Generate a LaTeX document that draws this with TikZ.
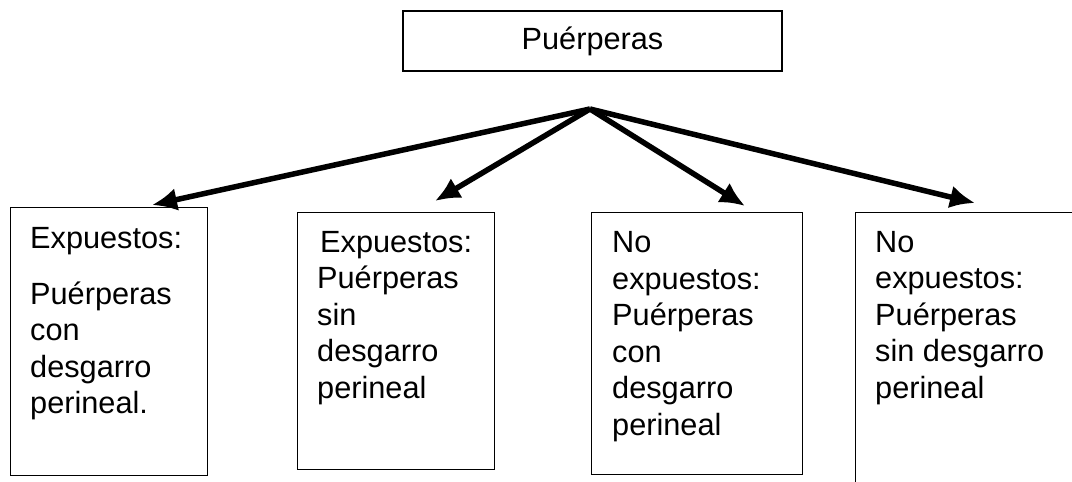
\documentclass[tikz,border=0pt]{standalone}
\usepackage{fontspec}
\setmainfont{Liberation Sans}
\usetikzlibrary{arrows.meta}
\begin{document}
\begin{tikzpicture}[x=1pt,y=-1pt,
  boxstyle/.style={draw=black,line width=1.1pt,inner sep=0pt},
  txt/.style={inner sep=0pt,align=left,font=\fontsize{30.7}{36.5}\selectfont},
  arr/.style={line width=5.5pt,-{Latex[length=25pt,width=23pt]}}]
\useasboundingbox (0,0) rectangle (1072,482);
\clip (0,0) rectangle (1072,482);
\fill[white] (0,0) rectangle (1072,482);
% top box
\node[boxstyle,minimum width=379pt,minimum height=60pt,font=\fontsize{30.7}{36.5}\selectfont] (top) at (592.5,41) {Puérperas};
% bottom boxes
\node[boxstyle,anchor=north west,minimum width=197pt,minimum height=268pt] (b1) at (10,207) {};
\node[boxstyle,anchor=north west,minimum width=197pt,minimum height=257pt] (b2) at (297,212) {};
\node[boxstyle,anchor=north west,minimum width=211pt,minimum height=262pt] (b3) at (591,212) {};
\node[boxstyle,anchor=north west,minimum width=240pt,minimum height=300pt] (b4) at (855,212) {};
% texts (base anchor = baseline of the last line)
\node[txt,anchor=base west] (t1a) at (30,248) {Expuestos:};
\node[txt,anchor=base west] (t1b) at (30,413.5) {Puérperas\\con\\desgarro\\perineal.};
\node[txt,anchor=base west] (t2a) at (320,252) {Expuestos:};
\node[txt,anchor=base west] (t2b) at (317,398) {Puérperas\\sin\\desgarro\\perineal};
\node[txt,anchor=base west] (t3) at (612,435) {No\\expuestos:\\Puérperas\\con\\desgarro\\perineal};
\node[txt,anchor=base west] (t4) at (875,398) {No\\expuestos:\\Puérperas\\sin desgarro\\perineal};
% arrows
\coordinate (apex) at (590,109);
\coordinate (e1) at (152,205);
\coordinate (e2) at (435,201);
\coordinate (e3) at (745,206);
\coordinate (e4) at (975,203);
\draw[arr] (apex) -- (e1);
\draw[arr] (apex) -- (e2);
\draw[arr] (apex) -- (e3);
\draw[arr] (apex) -- (e4);
\end{tikzpicture}
\end{document}
